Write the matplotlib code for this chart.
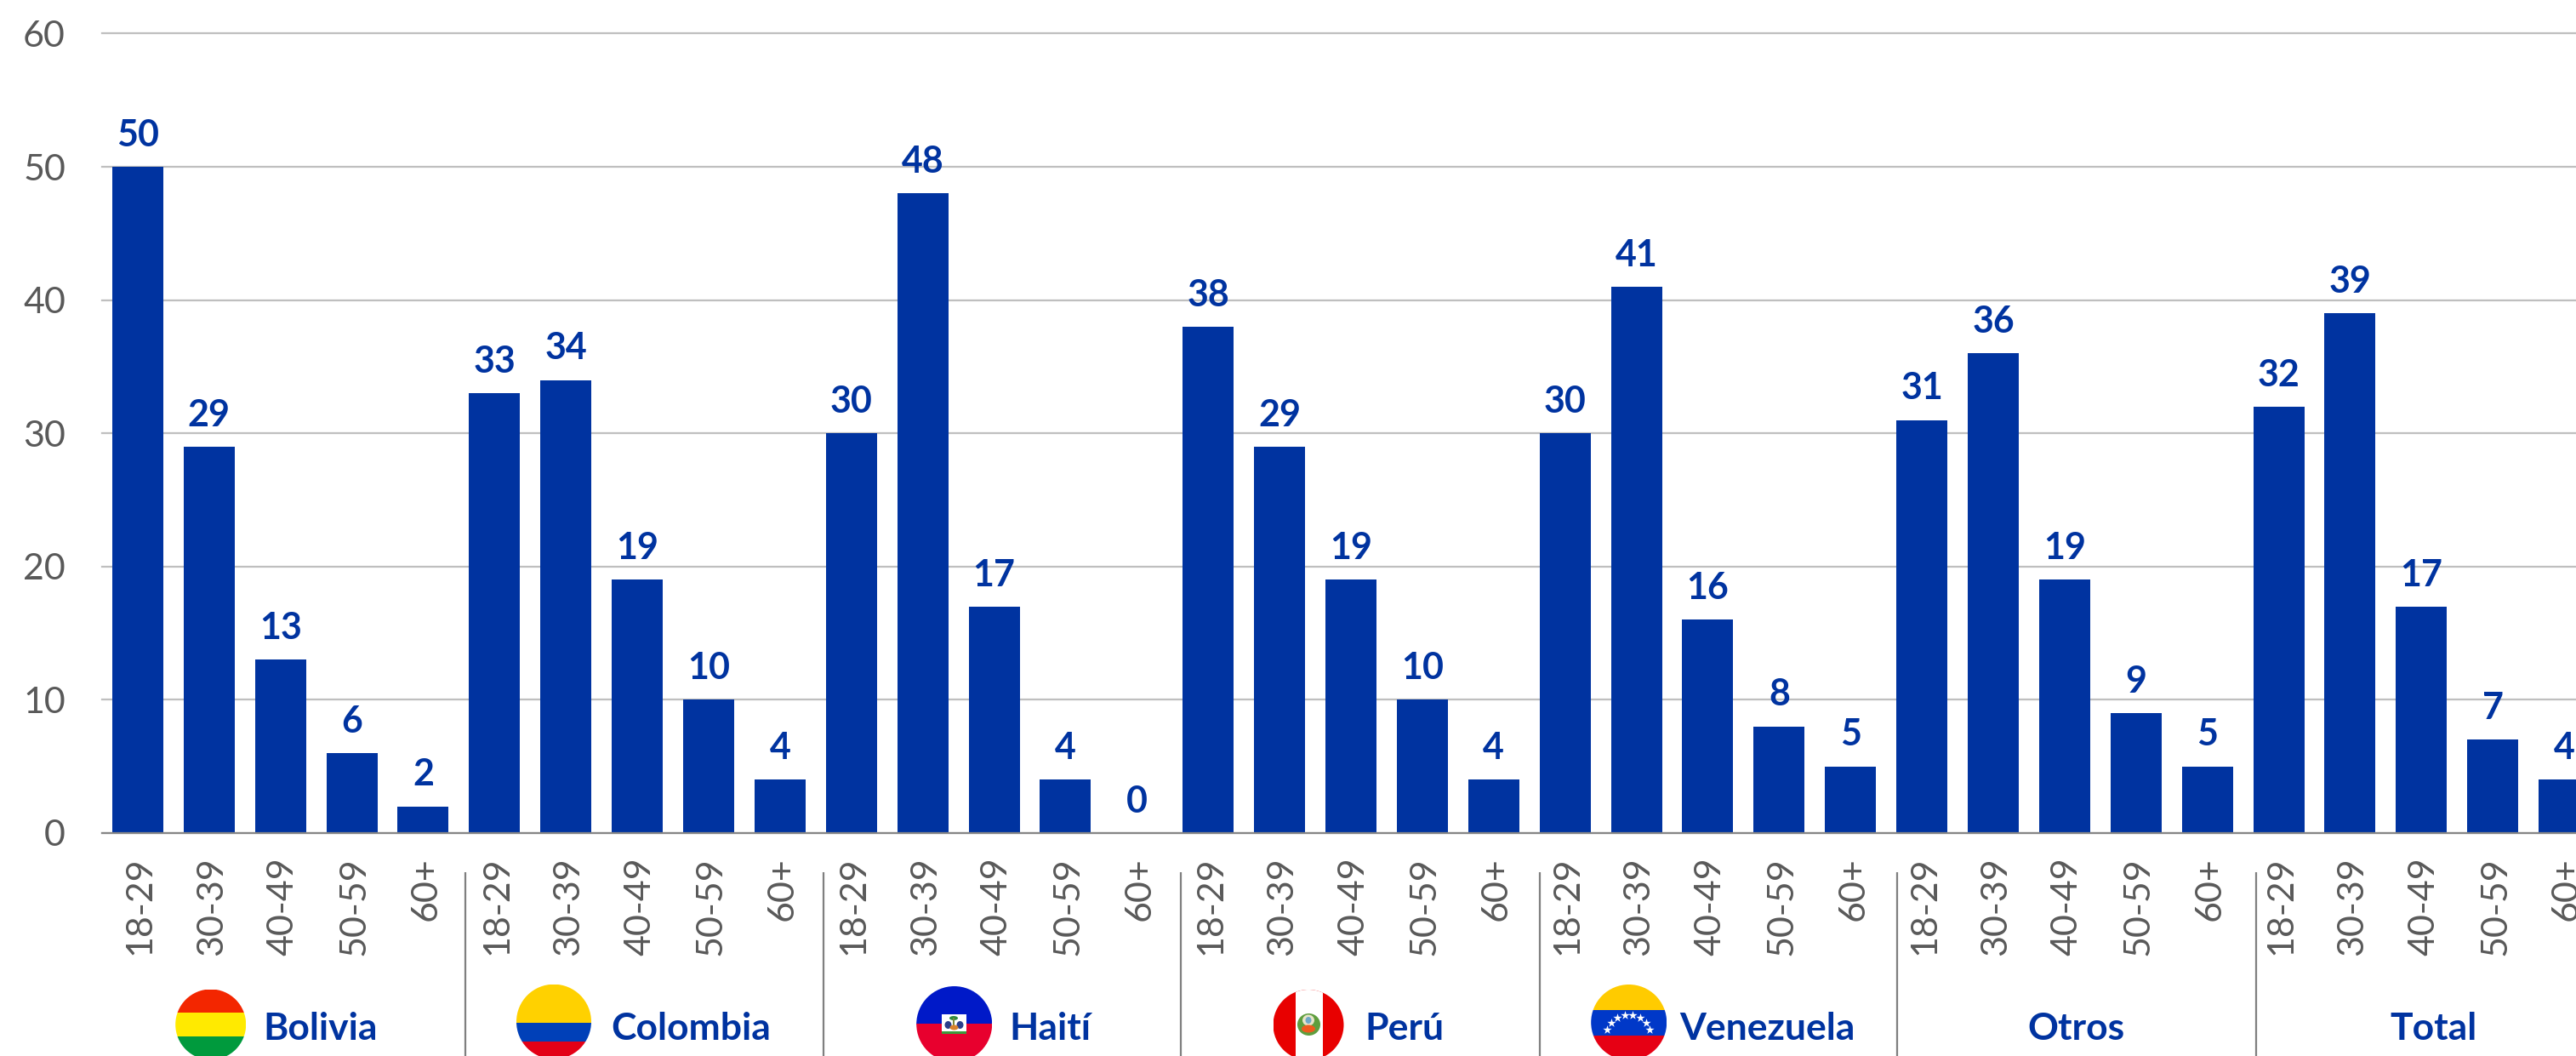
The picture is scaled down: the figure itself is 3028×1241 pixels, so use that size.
import matplotlib
matplotlib.use("Agg")
import matplotlib.pyplot as plt
from matplotlib.patches import Circle, Rectangle, Ellipse
from matplotlib.transforms import ScaledTranslation

FONT = "Lato"
plt.rcParams["font.family"] = [FONT, "DejaVu Sans"]

W, H = 3028, 1241
age_groups = ["18-29", "30-39", "40-49", "50-59", "60+"]
countries = ["Bolivia", "Colombia", "Haití", "Perú", "Venezuela", "Otros", "Total"]
bolivia = [50, 29, 13, 6, 2]
colombia = [33, 34, 19, 10, 4]
haiti = [30, 48, 17, 4, 0]
peru = [38, 29, 19, 10, 4]
venezuela = [30, 41, 16, 8, 5]
otros = [31, 36, 19, 9, 5]
total = [32, 39, 17, 7, 4]
y_ticks = [0, 10, 20, 30, 40, 50, 60]

BLUE = "#0033A0"
GREY = "#595959"
series = [bolivia, colombia, haiti, peru, venezuela, otros, total]
values = [v for s in series for v in s]
labels = age_groups * len(series)
xs = list(range(len(values)))

fig = plt.figure(figsize=(W / 100, H / 100), dpi=100, facecolor="white")
LEFT, RIGHT, TOP, BASE = 120, 3056, 39.5, 979
ax = fig.add_axes([LEFT / W, (H - BASE) / H, (RIGHT - LEFT) / W, (BASE - TOP) / H])
ax.bar(xs, values, width=60 / 83.9, color=BLUE, zorder=3)
ax.set_xlim(-0.5, len(values) - 0.5)
ax.set_ylim(0, 60)
ax.set_yticks(y_ticks)
ax.set_xticks(xs)
ax.set_xticklabels(labels, rotation=90, va="top", ha="center")
ax.tick_params(axis="both", length=0, labelsize=31, labelcolor=GREY)
ax.tick_params(axis="y", pad=31)
ax.tick_params(axis="x", pad=20)
shift = ScaledTranslation(3 / 100, 0, fig.dpi_scale_trans)
for lab in ax.get_xticklabels():
    lab.set_transform(lab.get_transform() + shift)
ax.grid(axis="y", color="#BFBFBF", lw=1.6, zorder=0, clip_on=False)
ax.set_axisbelow(True)
for s in ["top", "left", "right"]:
    ax.spines[s].set_visible(False)
ax.spines["bottom"].set_color("#868686")
ax.spines["bottom"].set_linewidth(1.6)
ax.spines["bottom"].set_zorder(4)
for x, v in zip(xs, values):
    ax.annotate(str(v), (x, v), xytext=(0, 17.5), textcoords="offset points",
                ha="center", va="baseline", fontsize=31, fontweight="bold",
                color=BLUE, annotation_clip=False)

# overlay in pixel coordinates for the hand-placed separators, flags and group names
ov = fig.add_axes([0, 0, 1, 1], facecolor="none")
ov.set_xlim(0, W)
ov.set_ylim(H, 0)
ov.axis("off")

for sx in [546.5, 968, 1388, 1810, 2230, 2652]:
    ov.plot([sx, sx], [1025, H], color="#7F7F7F", lw=1.6, solid_capstyle="butt")

name_x = [377, 812, 1234.5, 1651, 2077, 2440, 2860]
for nm, nx in zip(countries, name_x):
    ov.text(nx, 1222, nm, ha="center", va="baseline", fontsize=32,
            fontweight="bold", color=BLUE)


def flag(cx, cy, r, rects):
    clip = Circle((cx, cy), r, transform=ov.transData)
    for x0, y0, w, h, c in rects:
        p = Rectangle((x0, y0), w, h, facecolor=c, edgecolor="none", zorder=2)
        ov.add_patch(p)
        p.set_clip_path(clip)


# Bolivia
cx, cy, r = 247.7, 1204, 41.5
flag(cx, cy, r, [(cx - r, cy - r, 2 * r, 1190.3 - cy + r, "#F32600"),
                 (cx - r, 1190.3, 2 * r, 27.4, "#FFEA00"),
                 (cx - r, 1217.7, 2 * r, 40, "#009A3D")])
# Colombia
cx, cy, r = 651, 1200.7, 44
flag(cx, cy, r, [(cx - r, cy - r, 2 * r, 1201.7 - cy + r, "#FFD100"),
                 (cx - r, 1201.7, 2 * r, 22, "#0040B8"),
                 (cx - r, 1223.7, 2 * r, 40, "#E30016")])
# Haiti
cx, cy, r = 1121.7, 1203.5, 44.5
flag(cx, cy, r, [(cx - r, cy - r, 2 * r, r, "#0019C8"),
                 (cx - r, 1203.3, 2 * r, 50, "#E8002E")])
ov.add_patch(Rectangle((1107.3, 1192.3), 28.4, 22.7, fc="white", ec="none", zorder=3))
ov.add_patch(Rectangle((1107.3, 1211.5), 28.4, 3.5, fc="#3C9A3C", ec="none", zorder=4))
ov.add_patch(Ellipse((1121, 1196.5), 10, 5, fc="#2E8B3D", ec="none", zorder=4))
ov.add_patch(Rectangle((1120, 1196), 2, 13, fc="#7A8A3A", ec="none", zorder=4))
ov.add_patch(Ellipse((1114.5, 1204.5), 8, 9, fc="#2B3F8C", ec="none", zorder=4))
ov.add_patch(Ellipse((1128.5, 1204.5), 8, 9, fc="#2B3F8C", ec="none", zorder=4))
ov.add_patch(Ellipse((1121.5, 1207.5), 10, 6, fc="#D9822B", ec="none", zorder=4))
# Peru
cx, cy, r = 1538, 1204.5, 41.5
flag(cx, cy, r, [(cx - r, cy - r, 2 * r, 2 * r, "#E80000"),
                 (1522.7, cy - r, 32, 2 * r, "white")])
ov.add_patch(Ellipse((1538.5, 1204), 27, 26, fc="#5E9E3E", ec="none", zorder=3))
ov.add_patch(Ellipse((1538, 1199), 14, 13, fc="#E8E4C8", ec="none", zorder=4))
ov.add_patch(Ellipse((1538, 1199), 7, 8, fc="#6FA8C8", ec="none", zorder=5))
ov.add_patch(Ellipse((1538, 1209), 16, 9, fc="#EE5A1E", ec="none", zorder=5))
# Venezuela
cx, cy, r = 1914.7, 1201.5, 44.5
flag(cx, cy, r, [(cx - r, cy - r, 2 * r, 1186.7 - cy + r, "#FFCB00"),
                 (cx - r, 1186.7, 2 * r, 30, "#0038C8"),
                 (cx - r, 1216.7, 2 * r, 40, "#E60014")])
star_px = [(118, 240), (132, 216), (154, 198), (180, 188), (208, 188), (234, 198), (255, 216), (268, 240)]
ov.scatter([1850 + a / 3 for a, b in star_px], [1130 + b / 3 for a, b in star_px],
           marker="*", s=60, color="white", linewidths=0, zorder=4)

fig.savefig("out.png", dpi=100, facecolor="white")
